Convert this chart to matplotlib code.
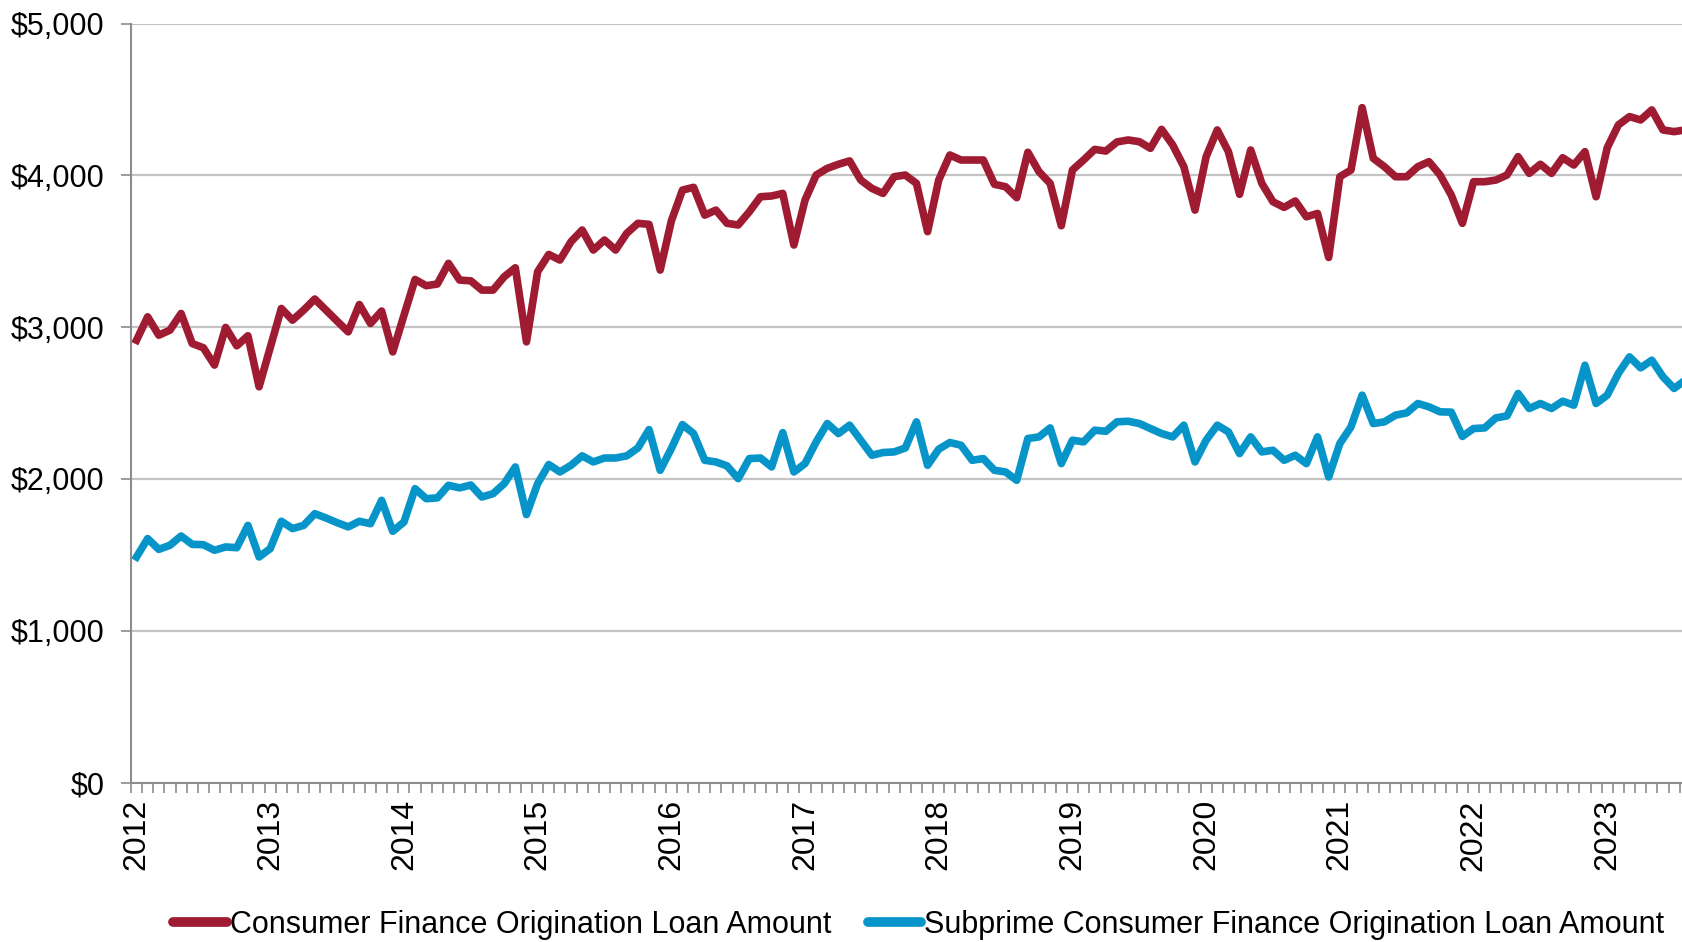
import matplotlib.pyplot as plt
from matplotlib.ticker import FuncFormatter, FixedLocator
import numpy as np

plt.rcParams['font.family'] = ['Liberation Sans', 'DejaVu Sans']

# monthly values, Jan 2012 onward
consumer = [
    2914, 3068, 2947, 2980, 3090, 2892, 2864, 2750, 2998, 2877, 2943, 2607,  # 2012
    2866, 3123, 3046, 3112, 3185, 3112, 3040, 2969, 3149, 3024, 3106, 2837,  # 2013
    3077, 3314, 3273, 3284, 3420, 3310, 3305, 3244, 3244, 3332, 3391, 2903,  # 2014
    3365, 3479, 3442, 3563, 3640, 3508, 3574, 3508, 3618, 3684, 3677, 3376,  # 2015
    3699, 3903, 3921, 3738, 3771, 3684, 3673, 3760, 3859, 3864, 3881, 3541,  # 2016
    3837, 4002, 4046, 4073, 4095, 3969, 3914, 3881, 3991, 4002, 3947, 3629,  # 2017
    3969, 4134, 4101, 4101, 4101, 3941, 3925, 3853, 4152, 4024, 3947, 3668,  # 2018
    4035, 4101, 4171, 4160, 4220, 4233, 4222, 4178, 4303, 4200, 4057, 3771,  # 2019
    4123, 4299, 4156, 3875, 4167, 3947, 3826, 3789, 3831, 3727, 3749, 3459,  # 2020
    3991, 4035, 4446, 4112, 4057, 3991, 3991, 4057, 4090, 4002, 3870, 3684,  # 2021
    3958, 3958, 3969, 4002, 4123, 4013, 4073, 4013, 4116, 4068, 4156, 3859,  # 2022
    4182, 4332, 4387, 4365, 4431, 4299, 4288, 4299,                          # 2023
]
subprime = [
    1486, 1607, 1536, 1563, 1624, 1569, 1567, 1530, 1552, 1547, 1694, 1486,
    1541, 1721, 1673, 1694, 1771, 1743, 1712, 1684, 1721, 1705, 1859, 1655,
    1716, 1936, 1870, 1875, 1958, 1941, 1960, 1881, 1903, 1969, 2079, 1765,
    1969, 2095, 2046, 2090, 2152, 2112, 2138, 2138, 2152, 2204, 2325, 2057,
    2200, 2358, 2299, 2123, 2112, 2086, 2002, 2134, 2138, 2079, 2305, 2046,
    2101, 2244, 2365, 2299, 2354, 2255, 2156, 2174, 2178, 2204, 2376, 2090,
    2196, 2240, 2222, 2123, 2134, 2057, 2046, 1991, 2266, 2277, 2336, 2101,
    2255, 2244, 2321, 2314, 2376, 2380, 2365, 2332, 2299, 2277, 2354, 2112,
    2255, 2354, 2310, 2167, 2277, 2178, 2189, 2123, 2156, 2101, 2277, 2013,
    2233, 2343, 2552, 2365, 2376, 2420, 2435, 2497, 2475, 2442, 2440, 2280,
    2332, 2336, 2402, 2415, 2563, 2464, 2497, 2464, 2512, 2486, 2749, 2497,
    2552, 2695, 2804, 2732, 2782, 2673, 2596, 2651,
]
years = [str(y) for y in range(2012, 2024)]
labels = ['Consumer Finance Origination Loan Amount',
          'Subprime Consumer Finance Origination Loan Amount']

red = '#9E1B32'
blue = '#0795C9'
grey = '#8C8C8C'

n = len(consumer)
x = np.arange(n) + 0.5

fig = plt.figure(figsize=(16.83, 9.42), dpi=100)
ax = fig.add_axes([0.0778, 0.1693, 0.9222, 0.8057])

ax.plot(x, consumer, color=red, lw=5.5, label=labels[0], solid_joinstyle='round')
ax.plot(x, subprime, color=blue, lw=5.5, label=labels[1], solid_joinstyle='round')

ax.set_ylim(0, 5000)
ax.set_xlim(0, 139.3)
ax.set_yticks(np.arange(0, 5001, 1000))
ax.yaxis.set_major_formatter(FuncFormatter(lambda v, p: '${:,.0f}'.format(v)))
ax.grid(axis='y', color='#C4C4C4', lw=1.6)
ax.set_axisbelow(True)

# year labels centred on January, tick marks between months
ax.xaxis.set_major_locator(FixedLocator(np.arange(len(years)) * 12 + 0.5))
ax.set_xticklabels(years, rotation=90, va='top', ha='center')
ax.xaxis.set_minor_locator(FixedLocator(np.arange(0, n)))
ax.tick_params(axis='x', which='major', length=0, pad=12, labelsize=23)
ax.tick_params(axis='x', which='minor', length=7, width=1.2, color=grey)
ax.tick_params(axis='y', length=7, width=1.2, color=grey, pad=12, labelsize=22)

for s in ['top', 'right']:
    ax.spines[s].set_visible(False)
for s in ['left', 'bottom']:
    ax.spines[s].set_color(grey)
    ax.spines[s].set_linewidth(1.5)

leg = fig.legend(loc='center', bbox_to_anchor=(0.546, 0.018), ncol=2, frameon=False,
                 fontsize=22, handlelength=1.75, handletextpad=0.1, columnspacing=1.2,
                 borderaxespad=0)
for h in leg.get_lines():
    h.set_linewidth(7)
    h.set_solid_capstyle('round')

fig.savefig('out.png', dpi=100)
